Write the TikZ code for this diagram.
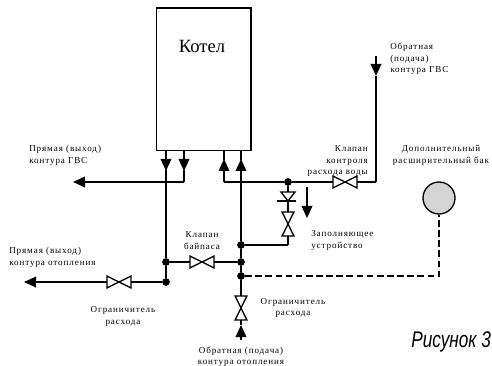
\documentclass[tikz,border=0pt]{standalone}
\usepackage{fontspec}
\setmainfont{Liberation Serif}
\newfontfamily\labelfont[LetterSpace=10]{Liberation Serif}
\newfontfamily\captionfont[FakeStretch=0.76]{Liberation Sans Italic}
\usetikzlibrary{arrows.meta, positioning}

\newcommand{\valvemark}[1]{\draw[pipe] (#1.north west) -- (#1.south east) -- (#1.north east) -- (#1.south west) -- cycle;}

\begin{document}
\begin{tikzpicture}[
        x=0.75pt, y=-0.75pt,
        pipe/.style={line width=1pt, miter limit=20},
        arrow/.style={pipe, -{Triangle[length=9pt, width=8pt]}},
        link/.style={pipe, dash pattern=on 5pt off 2.6pt},
        dot/.style={circle, fill=black, inner sep=0pt, minimum size=5.8pt},
        valve/.style={inner sep=0pt, minimum width=17.5pt, minimum height=8.5pt},
        txt/.style={font=\labelfont\fontsize{6.8}{8.6}\selectfont, inner sep=0pt}
        ]
        \useasboundingbox (0,0) rectangle (492,366);

        % Boiler and tank
        \node[draw, line width=1pt, minimum width=71pt, minimum height=107pt, inner sep=0pt] (Boiler) at (203.5,79.5) {};
        \node[inner sep=0pt, font=\fontsize{14}{16}\selectfont] (Boiler_name) at (202,46) {Котел};
        \node[draw, line width=1pt, fill=black!17, circle, minimum size=24pt, inner sep=0pt] (Tank) at (439,198) {};

        % Junctions
        \node[dot] (Hot_tee) at (288,182) {};
        \node[dot] (Return_top) at (241,245) {};
        \node[dot] (Return_mid) at (241,262) {};
        \node[dot] (Return_low) at (241,276) {};
        \node[dot] (Supply_mid) at (166,262) {};
        \node[dot] (Supply_low) at (166,282) {};

        % Valves
        \node[valve] (Dhw_valve) at (345,182) {};
        \node[valve] (Bypass_valve) at (202,262) {};
        \node[valve] (Heat_valve) at (119,282) {};
        \node[valve, rotate=90] (Fill_valve) at (288,224) {};
        \node[valve, rotate=90] (Return_valve) at (241,308) {};
        \valvemark{Dhw_valve}
        \valvemark{Bypass_valve}
        \valvemark{Heat_valve}
        \valvemark{Fill_valve}
        \valvemark{Return_valve}

        % Check valve
        \coordinate (Check_top) at (288,192);
        \coordinate (Check_bar) at (288,201);
        \draw[pipe] (281,192) -- (295,192) -- (Check_bar) -- cycle;
        \draw[pipe] (277,201) -- (296,201);

        % Free ends
        \coordinate (Hot_out) at (73,182);
        \coordinate (Hot_corner) at (184,182);
        \coordinate (Cold_corner) at (224,182);
        \coordinate (Main_cross) at (241,182);
        \coordinate (Dhw_corner) at (376,182);
        \coordinate (Dhw_start) at (376,56);
        \coordinate (Dhw_head) at (376,76);
        \coordinate (Heat_out) at (24,282);
        \coordinate (Return_start) at (241,340);
        \coordinate (Return_head) at (241,325);
        \coordinate (Fill_corner) at (288,245);
        \coordinate (Link_corner) at (439,276);
        \coordinate (Drain_start) at (307,187);
        \coordinate (Drain_end) at (307,218);

        % Pipes at the boiler
        \draw[arrow] (166,151) -- (166,171);
        \draw[arrow] (184,151) -- (184,171);
        \draw[arrow] (224,182) -- (224,159);
        \draw[arrow] (241,182) -- (241,159);
        \draw[pipe] (224,151) -- (224,160);
        \draw[pipe] (241,151) -- (241,160);
        \draw[pipe] (184,170) -- (Hot_corner);
        \draw[pipe] (166,170) -- (Supply_mid);

        % Pipes
        \draw[arrow] (Hot_corner) -- (Hot_out);
        \draw[pipe] (Supply_mid) -- (Supply_low);
        \draw[pipe] (Supply_low) -- (Heat_valve);
        \draw[arrow] (Heat_valve) -- (Heat_out);
        \draw[pipe] (Supply_mid) -- (Bypass_valve);
        \draw[pipe] (Bypass_valve) -- (Return_mid);
        \draw[pipe] (Main_cross) -- (Return_top);
        \draw[pipe] (Return_top) -- (Return_mid);
        \draw[pipe] (Return_mid) -- (Return_low);
        \draw[pipe] (Return_low) -- (Return_valve);
        \draw[arrow] (Return_start) -- (Return_head);
        \draw[pipe] (Return_head) -- (Return_valve);
        \draw[pipe] (Cold_corner) -- (Hot_tee);
        \draw[pipe] (Hot_tee) -- (Dhw_valve);
        \draw[pipe] (Dhw_valve) -- (Dhw_corner);
        \draw[pipe] (Dhw_corner) -- (Dhw_head);
        \draw[arrow] (Dhw_start) -- (Dhw_head);
        \draw[pipe] (Hot_tee) -- (Check_top);
        \draw[pipe] (Check_bar) -- (Fill_valve);
        \draw[pipe] (Fill_valve) -- (Fill_corner);
        \draw[pipe] (Fill_corner) -- (Return_top);
        \draw[arrow] (Drain_start) -- (Drain_end);
        \draw[link] (Return_low) -- (Link_corner) -- (Tank);

        % Labels
        \node[txt, anchor=west, align=left] (Dhw_return_text) at (390,59) {Обратная\\(подача)\\контура ГВС};
        \node[txt, anchor=west, align=left] (Dhw_out_text) at (29,155.5) {Прямая (выход)\\контура ГВС};
        \node[txt, anchor=west, align=left] (Heat_out_text) at (9,257.5) {Прямая (выход)\\контура отопления};
        \node[txt, align=center] (Bypass_text) at (202,240.5) {Клапан\\байпаса};
        \node[txt, align=center] (Limit_left_text) at (123,316.5) {Ограничитель\\расхода};
        \node[txt, align=center] (Limit_right_text) at (293,308) {Ограничитель\\расхода};
        \node[txt, align=center] (Heat_return_text) at (241,356.5) {Обратная (подача)\\контура отопления};
        \node[txt, anchor=east, align=right] (Dhw_valve_text) at (368,161) {Клапан\\контроля\\расхода воды};
        \node[txt, align=center] (Tank_text) at (441,155.5) {Дополнительный\\расширительный бак};
        \node[txt, anchor=west, align=left] (Fill_text) at (311,240.5) {Заполняющее\\устройство};
        \node[inner sep=0pt, anchor=base west, font=\captionfont\fontsize{17}{19}\selectfont] (Caption) at (411,347) {Рисунок 3};
\end{tikzpicture}
\end{document}
